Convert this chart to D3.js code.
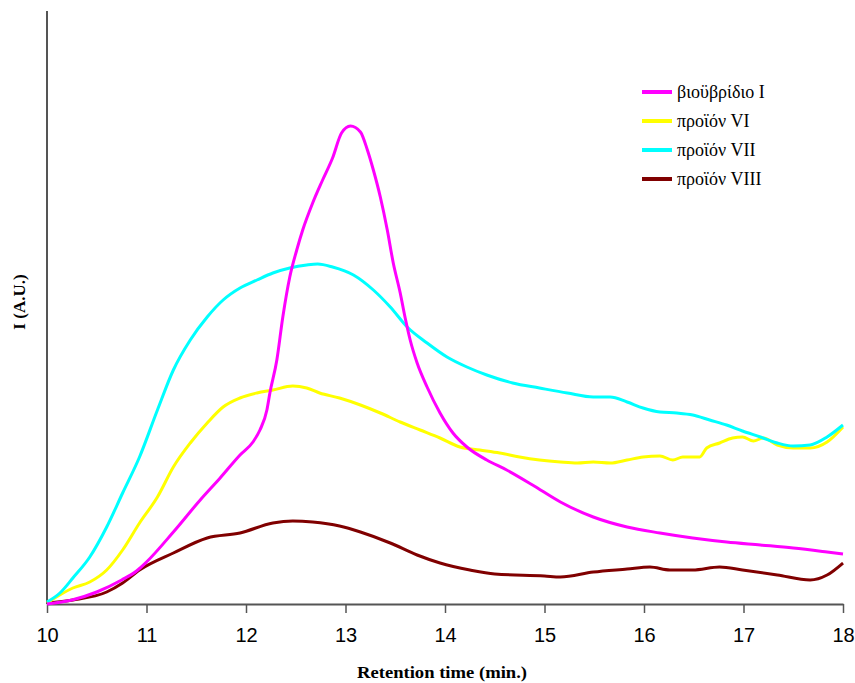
<!DOCTYPE html>
<html>
<head>
<meta charset="utf-8">
<script src="https://cdn.jsdelivr.net/npm/d3@7"></script>
<style>
  body { margin: 0; background: #fff; }
  svg { display: block; }
</style>
</head>
<body>
<div class="chart"></div>
<script>
// retention time (min.) and intensity (A.U.)
var bioTime = [10, 10.25, 10.5, 10.75, 10.9, 11, 11.27, 11.54, 11.74, 11.94, 12.07, 12.14, 12.21, 12.24, 12.31, 12.37, 12.44, 12.51, 12.57, 12.67, 12.77, 12.87, 12.96, 13.05, 13.15, 13.22, 13.28, 13.35, 13.42, 13.48, 13.55, 13.6, 13.65, 13.72, 13.82, 13.95, 14.08, 14.22, 14.42, 14.62, 14.88, 15.16, 15.49, 15.83, 16.16, 16.49, 16.83, 17.17, 17.5, 17.84, 18]
var bioValue = [0, 4, 12, 24, 33, 42, 72, 104, 126, 149, 162, 174, 194, 211, 244, 287, 327, 354, 374, 401, 424, 446, 471, 478, 472, 454, 434, 407, 374, 341, 311, 286, 264, 241, 217, 191, 171, 157, 144, 134, 119, 102, 87, 77, 71, 66, 62, 59, 56, 52, 50]

var vi_time = [10, 10.26, 10.43, 10.6, 10.76, 10.93, 11.11, 11.27, 11.44, 11.61, 11.77, 11.94, 12.11, 12.27, 12.47, 12.61, 12.74, 12.94, 13.15, 13.35, 13.55, 13.75, 13.95, 14.15, 14.35, 14.55, 14.75, 14.95, 15.16, 15.33, 15.49, 15.66, 15.83, 15.99, 16.16, 16.29, 16.39, 16.56, 16.63, 16.76, 16.89, 16.99, 17.1, 17.2, 17.34, 17.5, 17.67, 17.84, 18]
var vi_value = [1, 16, 22, 34, 54, 81, 107, 137, 161, 181, 197, 206, 211, 214, 218, 216, 211, 206, 199, 191, 182, 174, 166, 157, 154, 151, 147, 144, 142, 141, 142, 141, 144, 147, 148, 144, 147, 147, 156, 161, 166, 167, 163, 166, 159, 156, 156, 162, 177]

var vii_time = [10, 10.13, 10.26, 10.43, 10.6, 10.76, 10.93, 11.11, 11.27, 11.44, 11.61, 11.77, 11.94, 12.11, 12.27, 12.44, 12.61, 12.72, 12.87, 13.08, 13.28, 13.45, 13.62, 13.82, 14.02, 14.22, 14.42, 14.68, 14.95, 15.23, 15.49, 15.66, 15.83, 15.99, 16.16, 16.33, 16.49, 16.66, 16.83, 16.99, 17.17, 17.34, 17.5, 17.67, 17.84, 18]
var vii_value = [2, 11, 26, 47, 77, 111, 147, 194, 234, 264, 287, 304, 316, 324, 331, 336, 339, 340, 337, 329, 314, 297, 277, 261, 247, 237, 229, 221, 216, 211, 207, 207, 202, 196, 192, 191, 189, 184, 179, 173, 167, 161, 158, 159, 167, 179]

var viii_time = [10, 10.26, 10.6, 10.76, 10.93, 11.27, 11.61, 11.94, 12.27, 12.47, 12.67, 12.94, 13.15, 13.45, 13.72, 13.95, 14.25, 14.5, 15, 15.16, 15.49, 15.83, 16.06, 16.26, 16.49, 16.76, 16.99, 17.34, 17.67, 17.84, 18]
var viii_value = [1, 4, 12, 21, 34, 51, 66, 71, 81, 83, 82, 78, 72, 61, 49, 41, 34, 30, 28, 27, 32, 35, 37, 34, 34, 37, 34, 29, 24, 29, 41]

var seriesNames = ["βιοϋβρίδιο I", "προϊόν VI", "προϊόν VII", "προϊόν VIII"]
var seriesColors = ["#ff00ff", "#ffff00", "#00ffff", "#800000"]
var xTicks = [10, 11, 12, 13, 14, 15, 16, 17, 18]

document.addEventListener("DOMContentLoaded", drawChart)

function drawChart() {
  var width = 855,
    height = 683

  var svg = d3.select(".chart").append("svg")
    .attr("width", width)
    .attr("height", height)

  var xScale = d3.scaleLinear()
    .domain([10, 18])
    .range([47, 843])

  var yScale = d3.scaleLinear()
    .domain([0, 594])
    .range([604, 10])

  function zip(times, values) {
    return times.map(function (t, i) { return [t, values[i]] })
  }

  var series = [
    zip(bioTime, bioValue),
    zip(vi_time, vi_value),
    zip(vii_time, vii_value),
    zip(viii_time, viii_value)
  ]

  // axes
  var xAxis = svg.append("g")
    .attr("transform", "translate(0,604)")
    .call(d3.axisBottom(xScale).tickValues(xTicks).tickSize(9).tickPadding(15).tickSizeOuter(0))

  xAxis.select(".domain").attr("stroke", "#555").attr("stroke-width", 2)
  xAxis.selectAll(".tick line").attr("stroke", "#555").attr("stroke-width", 1.5)
  xAxis.selectAll(".tick text")
    .attr("fill", "#000")
    .style("font-family", "'Liberation Sans', Arial, sans-serif")
    .style("font-size", "20px")

  svg.append("line")
    .attr("x1", xScale(10)).attr("x2", xScale(10))
    .attr("y1", yScale(0)).attr("y2", 11)
    .attr("stroke", "#555")
    .attr("stroke-width", 2)

  // curves
  var line = d3.line()
    .x(function (d) { return xScale(d[0]) })
    .y(function (d) { return yScale(d[1]) })
    .curve(d3.curveMonotoneX)

  // draw brown first, magenta on top like the original
  var order = [3, 1, 2, 0]
  svg.append("g")
    .selectAll("path")
    .data(order)
    .enter().append("path")
    .attr("d", function (i) { return line(series[i]) })
    .attr("fill", "none")
    .attr("stroke", function (i) { return seriesColors[i] })
    .attr("stroke-width", 3)
    .attr("stroke-linejoin", "round")

  // legend
  var legend = svg.append("g")
    .selectAll("g")
    .data(seriesNames)
    .enter().append("g")
    .attr("transform", function (d, i) { return "translate(642," + (92 + i * 29) + ")" })

  legend.append("line")
    .attr("x1", 0).attr("x2", 30)
    .attr("stroke", function (d, i) { return seriesColors[i] })
    .attr("stroke-width", 4)

  legend.append("text")
    .attr("x", 35)
    .attr("y", 6)
    .text(function (d) { return d })
    .style("font-family", "'Liberation Serif', 'Times New Roman', serif")
    .style("font-size", "18px")

  // axis titles
  svg.append("text")
    .attr("x", 442)
    .attr("y", 678)
    .attr("text-anchor", "middle")
    .attr("textLength", 170)
    .attr("lengthAdjust", "spacingAndGlyphs")
    .text("Retention time (min.)")
    .style("font-family", "'Liberation Serif', 'Times New Roman', serif")
    .style("font-weight", "bold")
    .style("font-size", "17px")

  svg.append("text")
    .attr("transform", "translate(25,302) rotate(-90)")
    .attr("text-anchor", "middle")
    .text("I (A.U.)")
    .style("font-family", "'Liberation Serif', 'Times New Roman', serif")
    .style("font-weight", "bold")
    .style("font-size", "17px")
}
</script>
</body>
</html>
